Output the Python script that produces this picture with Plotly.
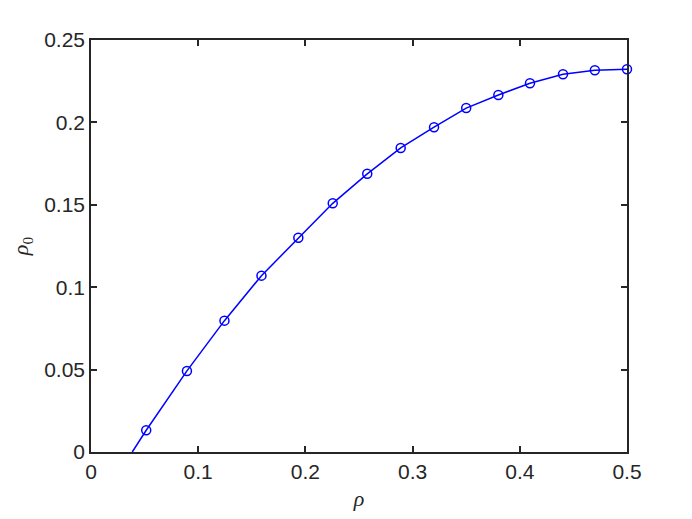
import plotly.graph_objects as go

rho = [0.0515, 0.0895, 0.1245, 0.159, 0.1934, 0.2255, 0.2577, 0.2889, 0.320,
       0.350, 0.380, 0.4095, 0.4403, 0.470, 0.500]
rho0 = [0.0132, 0.0492, 0.0797, 0.107, 0.130, 0.1509, 0.1688, 0.1845, 0.1971,
        0.2087, 0.2166, 0.2238, 0.2292, 0.2316, 0.2322]
# line start at the x-axis (no marker)
line_start_x = [0.0385]
line_start_y = [0.0]

x_ticks = [0, 0.1, 0.2, 0.3, 0.4, 0.5]
x_ticktext = ["0", "0.1", "0.2", "0.3", "0.4", "0.5"]
y_ticks = [0, 0.05, 0.1, 0.15, 0.2, 0.25]
y_ticktext = ["0", "0.05", "0.1", "0.15", "0.2", "0.25"]

blue = "rgb(0,0,255)"
fig = go.Figure()
fig.add_trace(go.Scatter(
    x=line_start_x + rho, y=line_start_y + rho0, mode="lines",
    line=dict(color=blue, width=1.5), showlegend=False, cliponaxis=True))
fig.add_trace(go.Scatter(
    x=rho, y=rho0, mode="markers",
    marker=dict(symbol="circle-open", size=9, color=blue, line=dict(width=1.5, color=blue)),
    showlegend=False, cliponaxis=False))

axcol = "#262626"
common = dict(showline=True, linecolor=axcol, linewidth=1.5, mirror="ticks",
              ticks="inside", ticklen=6, tickwidth=1.5, tickcolor=axcol,
              showgrid=False, zeroline=False, automargin=False,
              tickfont=dict(family="Liberation Sans, Arial, sans-serif", size=21, color=axcol))
title_font = dict(family="Liberation Serif, serif", size=22, color=axcol)
fig.update_xaxes(range=[0, 0.5], tickvals=x_ticks, ticktext=x_ticktext,
                 title=dict(text="<i>ρ</i>", font=title_font, standoff=23),
                 **common)
fig.update_yaxes(range=[0, 0.25], tickvals=y_ticks, ticktext=y_ticktext,
                 title=dict(text="<i>ρ</i><sub>0</sub>", font=title_font, standoff=21),
                 **common)
# page body has an 8px margin; compensate so the plot area sits where the reference's does
fig.update_layout(width=676, height=503, plot_bgcolor="white", paper_bgcolor="white",
                  margin=dict(l=83, r=57, t=32, b=59))
fig.write_html("out.html")
